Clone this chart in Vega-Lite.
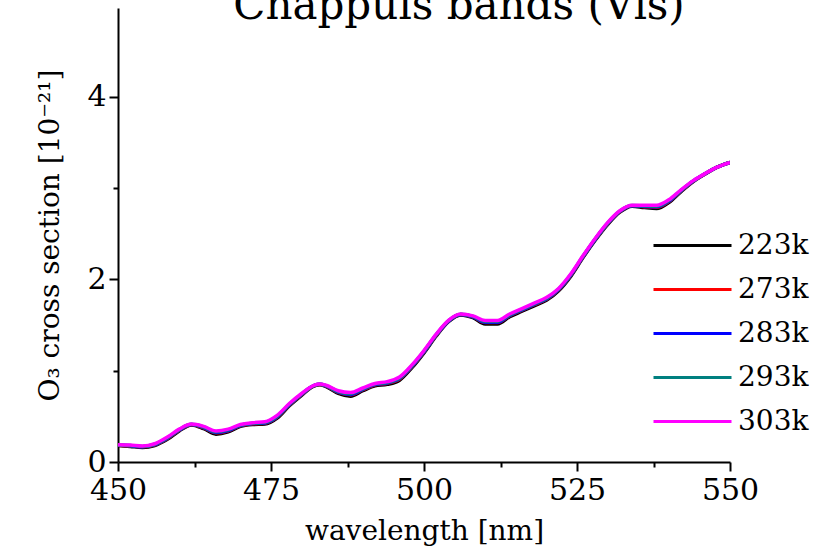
{
  "$schema": "https://vega.github.io/schema/vega-lite/v6.json",
  "width": 612,
  "height": 454,
  "autosize": "none",
  "padding": {"left": 118, "top": 8, "right": 87, "bottom": 87},
  "background": "white",
  "title": {
    "text": "Chappuis bands (Vis)",
    "font": "DejaVu Serif",
    "fontSize": 42,
    "fontWeight": "normal",
    "color": "black",
    "anchor": "middle",
    "frame": "group",
    "baseline": "alphabetic",
    "offset": -53,
    "dx": 35
  },
  "data": {
    "values": [
      {"wl": 450, "223k": 0.18, "273k": 0.184, "283k": 0.185, "293k": 0.187, "303k": 0.19},
      {"wl": 452, "223k": 0.17, "273k": 0.176, "283k": 0.178, "293k": 0.181, "303k": 0.185},
      {"wl": 454, "223k": 0.16, "273k": 0.166, "283k": 0.168, "293k": 0.171, "303k": 0.175},
      {"wl": 456, "223k": 0.18, "273k": 0.188, "283k": 0.19, "293k": 0.194, "303k": 0.2},
      {"wl": 458, "223k": 0.245, "273k": 0.255, "283k": 0.258, "293k": 0.263, "303k": 0.27},
      {"wl": 460, "223k": 0.34, "273k": 0.348, "283k": 0.35, "293k": 0.354, "303k": 0.36},
      {"wl": 462, "223k": 0.405, "273k": 0.409, "283k": 0.41, "293k": 0.412, "303k": 0.415},
      {"wl": 464, "223k": 0.365, "273k": 0.375, "283k": 0.378, "293k": 0.383, "303k": 0.39},
      {"wl": 466, "223k": 0.305, "273k": 0.319, "283k": 0.323, "293k": 0.33, "303k": 0.34},
      {"wl": 468, "223k": 0.33, "273k": 0.342, "283k": 0.345, "293k": 0.351, "303k": 0.36},
      {"wl": 470, "223k": 0.39, "273k": 0.398, "283k": 0.4, "293k": 0.404, "303k": 0.41},
      {"wl": 472, "223k": 0.41, "273k": 0.418, "283k": 0.42, "293k": 0.424, "303k": 0.43},
      {"wl": 474, "223k": 0.415, "273k": 0.425, "283k": 0.428, "293k": 0.433, "303k": 0.44},
      {"wl": 476, "223k": 0.48, "273k": 0.492, "283k": 0.495, "293k": 0.501, "303k": 0.51},
      {"wl": 478, "223k": 0.615, "273k": 0.625, "283k": 0.628, "293k": 0.633, "303k": 0.64},
      {"wl": 480, "223k": 0.73, "273k": 0.738, "283k": 0.74, "293k": 0.744, "303k": 0.75},
      {"wl": 482, "223k": 0.83, "273k": 0.834, "283k": 0.835, "293k": 0.837, "303k": 0.84},
      {"wl": 483, "223k": 0.845, "273k": 0.849, "283k": 0.85, "293k": 0.852, "303k": 0.855},
      {"wl": 484, "223k": 0.825, "273k": 0.831, "283k": 0.833, "293k": 0.836, "303k": 0.84},
      {"wl": 486, "223k": 0.75, "273k": 0.762, "283k": 0.765, "293k": 0.771, "303k": 0.78},
      {"wl": 488, "223k": 0.72, "273k": 0.736, "283k": 0.74, "293k": 0.748, "303k": 0.76},
      {"wl": 490, "223k": 0.78, "273k": 0.792, "283k": 0.795, "293k": 0.801, "303k": 0.81},
      {"wl": 492, "223k": 0.835, "273k": 0.845, "283k": 0.848, "293k": 0.853, "303k": 0.86},
      {"wl": 494, "223k": 0.85, "273k": 0.862, "283k": 0.865, "293k": 0.871, "303k": 0.88},
      {"wl": 496, "223k": 0.895, "273k": 0.909, "283k": 0.913, "293k": 0.92, "303k": 0.93},
      {"wl": 498, "223k": 1.03, "273k": 1.042, "283k": 1.045, "293k": 1.051, "303k": 1.06},
      {"wl": 500, "223k": 1.195, "273k": 1.205, "283k": 1.208, "293k": 1.213, "303k": 1.22},
      {"wl": 502, "223k": 1.38, "273k": 1.388, "283k": 1.39, "293k": 1.394, "303k": 1.4},
      {"wl": 504, "223k": 1.535, "273k": 1.541, "283k": 1.543, "293k": 1.546, "303k": 1.55},
      {"wl": 506, "223k": 1.61, "273k": 1.614, "283k": 1.615, "293k": 1.617, "303k": 1.62},
      {"wl": 508, "223k": 1.58, "273k": 1.588, "283k": 1.59, "293k": 1.594, "303k": 1.6},
      {"wl": 510, "223k": 1.51, "273k": 1.526, "283k": 1.53, "293k": 1.538, "303k": 1.55},
      {"wl": 512, "223k": 1.51, "273k": 1.526, "283k": 1.53, "293k": 1.538, "303k": 1.55},
      {"wl": 514, "223k": 1.59, "273k": 1.602, "283k": 1.605, "293k": 1.611, "303k": 1.62},
      {"wl": 516, "223k": 1.65, "273k": 1.662, "283k": 1.665, "293k": 1.671, "303k": 1.68},
      {"wl": 518, "223k": 1.71, "273k": 1.722, "283k": 1.725, "293k": 1.731, "303k": 1.74},
      {"wl": 520, "223k": 1.77, "273k": 1.782, "283k": 1.785, "293k": 1.791, "303k": 1.8},
      {"wl": 522, "223k": 1.875, "273k": 1.885, "283k": 1.888, "293k": 1.893, "303k": 1.9},
      {"wl": 524, "223k": 2.035, "273k": 2.045, "283k": 2.048, "293k": 2.053, "303k": 2.06},
      {"wl": 526, "223k": 2.24, "273k": 2.248, "283k": 2.25, "293k": 2.254, "303k": 2.26},
      {"wl": 528, "223k": 2.43, "273k": 2.438, "283k": 2.44, "293k": 2.444, "303k": 2.45},
      {"wl": 530, "223k": 2.6, "273k": 2.608, "283k": 2.61, "293k": 2.614, "303k": 2.62},
      {"wl": 532, "223k": 2.735, "273k": 2.741, "283k": 2.743, "293k": 2.746, "303k": 2.75},
      {"wl": 534, "223k": 2.8, "273k": 2.804, "283k": 2.805, "293k": 2.807, "303k": 2.81},
      {"wl": 536, "223k": 2.785, "273k": 2.795, "283k": 2.798, "293k": 2.803, "303k": 2.81},
      {"wl": 538, "223k": 2.775, "273k": 2.789, "283k": 2.793, "293k": 2.8, "303k": 2.81},
      {"wl": 540, "223k": 2.84, "273k": 2.852, "283k": 2.855, "293k": 2.861, "303k": 2.87},
      {"wl": 542, "223k": 2.96, "273k": 2.968, "283k": 2.97, "293k": 2.974, "303k": 2.98},
      {"wl": 544, "223k": 3.07, "273k": 3.074, "283k": 3.075, "293k": 3.077, "303k": 3.08},
      {"wl": 546, "223k": 3.155, "273k": 3.157, "283k": 3.158, "293k": 3.159, "303k": 3.16},
      {"wl": 548, "223k": 3.23, "273k": 3.23, "283k": 3.23, "293k": 3.23, "303k": 3.23},
      {"wl": 550, "223k": 3.28, "273k": 3.28, "283k": 3.28, "293k": 3.28, "303k": 3.28}
    ]
  },
  "transform": [
    {"fold": ["223k", "273k", "283k", "293k", "303k"], "as": ["temperature", "sigma"]}
  ],
  "mark": {"type": "line", "strokeWidth": 3.5, "interpolate": "monotone", "clip": true},
  "encoding": {
    "x": {
      "field": "wl",
      "type": "quantitative",
      "scale": {"domain": [450, 550], "nice": false, "zero": false},
      "axis": {
        "title": "wavelength [nm]",
        "values": [450, 462.5, 475, 487.5, 500, 512.5, 525, 537.5, 550],
        "labelExpr": "datum.value % 25 == 0 ? format(datum.value, 'd') : ''",
        "labelOverlap": false,
        "labelFlush": false,
        "grid": false,
        "tickSize": {"condition": {"test": "datum.value % 25 != 0", "value": 5}, "value": 9},
        "labelPadding": 4,
        "titlePadding": 12
      }
    },
    "y": {
      "field": "sigma",
      "type": "quantitative",
      "scale": {"domain": [0, 4.97], "nice": false},
      "axis": {
        "title": "O₃ cross section [10⁻²¹]",
        "values": [0, 1, 2, 3, 4],
        "labelExpr": "datum.value % 2 == 0 ? format(datum.value, 'd') : ''",
        "labelOverlap": false,
        "labelFlush": false,
        "grid": false,
        "tickSize": {"condition": {"test": "datum.value % 2 != 0", "value": 5}, "value": 9},
        "labelPadding": 3,
        "titlePadding": 22
      }
    },
    "color": {
      "field": "temperature",
      "type": "nominal",
      "scale": {
        "domain": ["223k", "273k", "283k", "293k", "303k"],
        "range": ["#000000", "#ff0000", "#0000ff", "#008080", "#ff00ff"]
      },
      "legend": {
        "title": null,
        "orient": "none",
        "legendX": 534,
        "legendY": 223,
        "symbolType": "M-1,0H5",
        "symbolSize": 676,
        "symbolStrokeWidth": 3,
        "symbolFillColor": "transparent",
        "labelOffset": 57,
        "rowPadding": 15,
        "labelFont": "DejaVu Serif",
        "labelFontSize": 28,
        "labelColor": "black",
        "labelLimit": 200
      }
    }
  },
  "config": {
    "view": {"stroke": null},
    "axis": {
      "domainColor": "black",
      "domainWidth": 2,
      "tickColor": "black",
      "tickWidth": 2,
      "labelFont": "DejaVu Serif",
      "labelFontSize": 30,
      "labelColor": "black",
      "titleFont": "DejaVu Serif",
      "titleFontSize": 28,
      "titleFontWeight": "normal",
      "titleColor": "black"
    }
  }
}
